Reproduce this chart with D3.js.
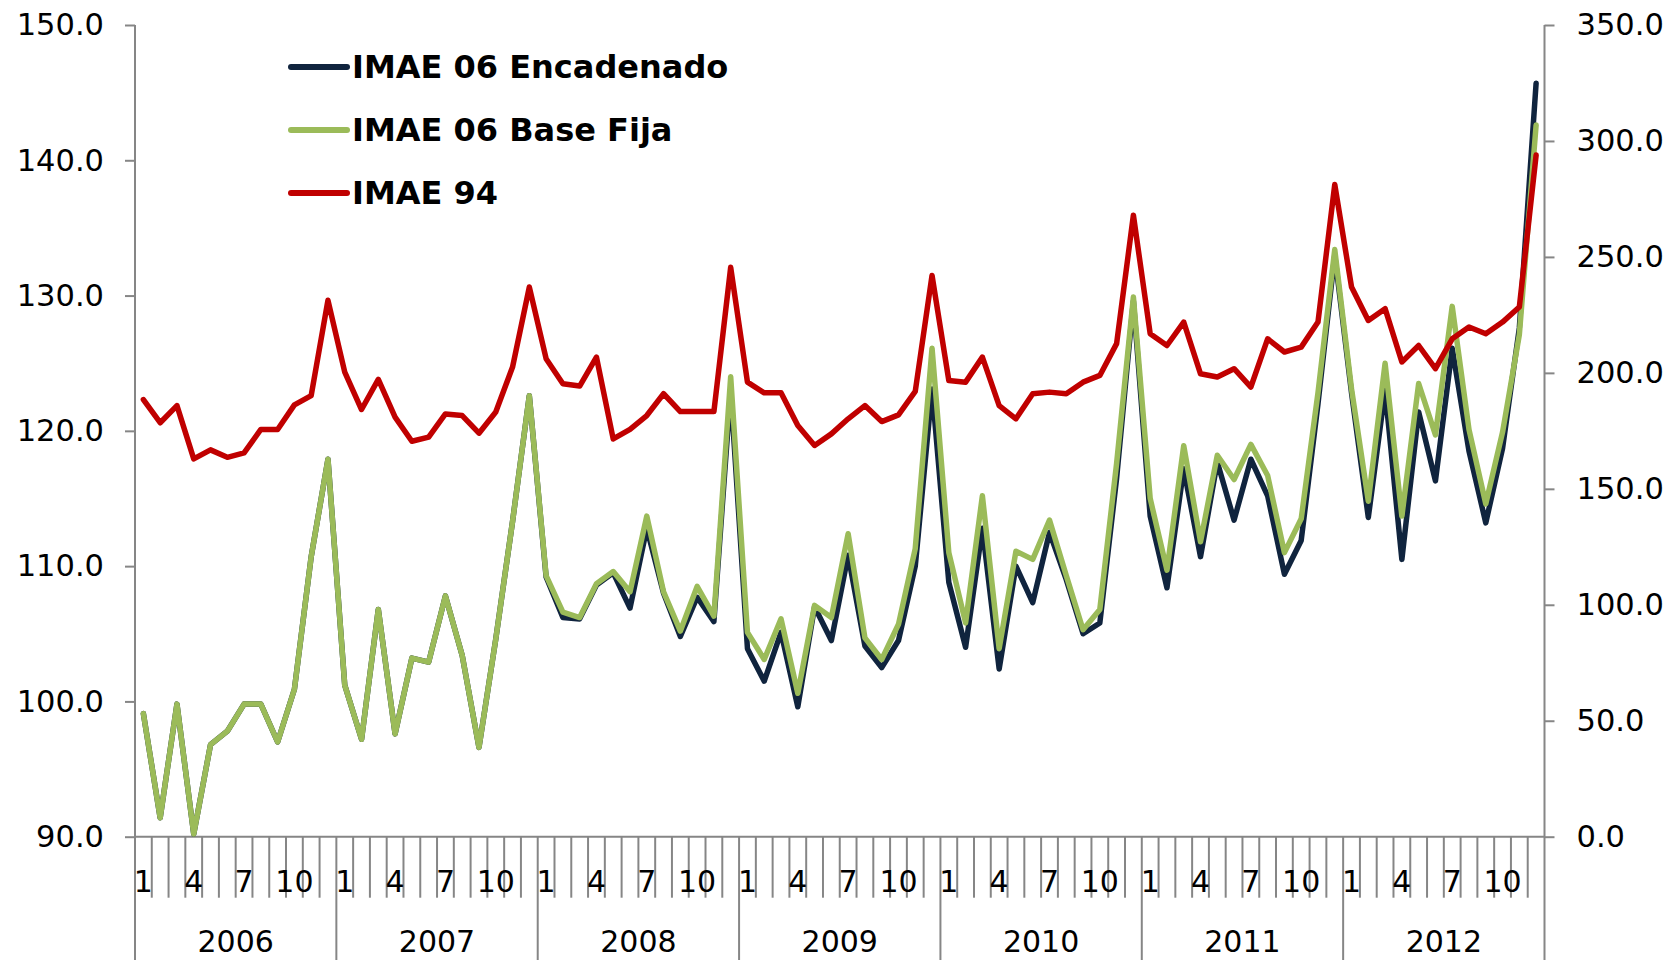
<!DOCTYPE html>
<html>
<head>
<meta charset="utf-8">
<script src="https://cdn.jsdelivr.net/npm/d3@7"></script>
<style>
  html, body { margin: 0; padding: 0; background: #fff; }
  svg { display: block; }
  text { font-family: "DejaVu Sans", Verdana, sans-serif; fill: #000; }
</style>
</head>
<body>
<svg id="chart" width="1673" height="960"></svg>
<script>
// months shown on the category axis
const years = ['2006', '2007', '2008', '2009', '2010', '2011', '2012']
const monthLabels = ['1', '', '', '4', '', '', '7', '', '', '10', '', '']
const leftTicks = [90, 100, 110, 120, 130, 140, 150]
const rightTicks = [0, 50, 100, 150, 200, 250, 300, 350]

// IMAE 06 Encadenado (left axis)
const encadenado = [
  99.1, 91.4, 99.8, 90.2, 96.8, 97.8, 99.8, 99.8, 97.0, 100.9, 110.7, 117.9,
  101.2, 97.2, 106.8, 97.6, 103.2, 102.9, 107.8, 103.4, 96.6, 104.6, 113.3, 122.6,
  109.2, 106.2, 106.1, 108.6, 109.5, 106.9, 112.8, 108.0, 104.8, 107.7, 105.9, 123.0,
  103.9, 101.5, 105.1, 99.6, 107.0, 104.5, 110.8, 104.1, 102.5, 104.5, 110.0, 123.1,
  108.8, 104.0, 112.8, 102.4, 110.0, 107.3, 112.5, 109.0, 105.0, 105.8, 116.5, 129.6,
  113.7, 108.4, 117.2, 110.7, 117.7, 113.4, 117.9, 115.2, 109.4, 111.9, 122.0, 133.0,
  122.8, 113.6, 123.0, 110.5, 121.4, 116.3, 126.1, 118.5, 113.2, 118.7, 127.6, 145.7
]

// IMAE 06 Base Fija (left axis)
const baseFija = [
  99.1, 91.4, 99.8, 90.2, 96.8, 97.8, 99.8, 99.8, 97.0, 100.9, 110.7, 117.9,
  101.2, 97.2, 106.8, 97.6, 103.2, 102.9, 107.8, 103.4, 96.6, 104.6, 113.3, 122.6,
  109.3, 106.6, 106.2, 108.7, 109.6, 108.1, 113.7, 108.1, 105.2, 108.5, 106.3, 124.0,
  105.1, 103.1, 106.1, 100.6, 107.1, 106.2, 112.4, 104.7, 103.1, 105.7, 111.3, 126.1,
  111.0, 105.8, 115.2, 103.9, 111.1, 110.5, 113.4, 109.3, 105.3, 106.8, 117.6, 129.9,
  115.0, 109.7, 118.9, 111.8, 118.2, 116.4, 119.0, 116.7, 111.0, 113.5, 122.8, 133.4,
  123.1, 114.8, 125.0, 113.7, 123.5, 119.7, 129.2, 120.1, 114.6, 119.9, 127.1, 142.6
]

// IMAE 94 (right axis)
const imae94 = [
  188.5, 178.5, 185.9, 162.9, 166.8, 163.6, 165.5, 175.6, 175.6, 186.2, 190.2, 231.3,
  200.3, 184.2, 197.2, 180.9, 170.5, 172.3, 182.3, 181.6, 174.0, 183.1, 202.5, 237.0,
  206.1, 195.3, 194.3, 206.8, 171.5, 175.6, 181.6, 191.0, 183.3, 183.3, 183.3, 245.5,
  196.0, 191.4, 191.4, 177.3, 168.7, 173.7, 180.2, 185.9, 179.0, 181.9, 192.0, 242.0,
  196.7, 196.0, 206.8, 185.9, 180.2, 191.0, 191.7, 191.0, 196.0, 198.9, 212.6, 268.0,
  216.9, 211.8, 221.9, 199.6, 198.2, 201.8, 193.9, 214.7, 209.0, 211.1, 221.9, 281.2,
  237.0, 222.6, 227.7, 204.7, 211.8, 201.8, 214.7, 219.8, 216.9, 221.9, 228.4, 293.9
]

const seriesNames = ['IMAE 06 Encadenado', 'IMAE 06 Base Fija', 'IMAE 94']
const seriesColors = ['#10243e', '#9bbb59', '#c00000']

const svg = d3.select('#chart')
const width = +svg.attr('width')
const height = +svg.attr('height')
const margin = { top: 25, right: 128.5, bottom: 123.3, left: 135 }
const axisColor = '#868686'

const months = d3.range(years.length * 12)
const x = d3.scaleBand()
  .domain(months)
  .range([margin.left, width - margin.right])
const yLeft = d3.scaleLinear().domain([90, 150]).range([height - margin.bottom, margin.top])
const yRight = d3.scaleLinear().domain([0, 350]).range([height - margin.bottom, margin.top])
const bottom = height - margin.bottom
const cx = i => x(i) + x.bandwidth() / 2

// left value axis
const gLeft = svg.append('g')
  .attr('transform', `translate(${margin.left},0)`)
  .call(d3.axisLeft(yLeft).tickValues(leftTicks).tickFormat(d3.format('.1f'))
    .tickSize(10).tickSizeOuter(0).tickPadding(21))
// right value axis
const gRight = svg.append('g')
  .attr('transform', `translate(${width - margin.right},0)`)
  .call(d3.axisRight(yRight).tickValues(rightTicks).tickFormat(d3.format('.1f'))
    .tickSize(10).tickSizeOuter(0).tickPadding(22))

for (const g of [gLeft, gRight]) {
  g.select('.domain').remove()
  g.selectAll('line').attr('stroke', axisColor).attr('stroke-width', 2)
  g.selectAll('text').attr('font-size', 30.5).attr('font-family', '"DejaVu Sans", Verdana, sans-serif')
}

// axis lines, running down past the category labels
svg.append('g').selectAll('line')
  .data([margin.left, width - margin.right])
  .join('line')
  .attr('x1', d => d).attr('x2', d => d)
  .attr('y1', margin.top).attr('y2', height)
  .attr('stroke', axisColor).attr('stroke-width', 2)

svg.append('line')
  .attr('x1', margin.left).attr('x2', width - margin.right)
  .attr('y1', bottom).attr('y2', bottom)
  .attr('stroke', axisColor).attr('stroke-width', 2)

// month separators (short) and year separators (long)
const gx = svg.append('g')
gx.selectAll('line.month')
  .data(months.slice(1))
  .join('line')
  .attr('class', 'month')
  .attr('x1', d => x(d)).attr('x2', d => x(d))
  .attr('y1', bottom)
  .attr('y2', d => d % 12 === 0 ? height : bottom + 61)
  .attr('stroke', axisColor).attr('stroke-width', 2)

gx.selectAll('text.month')
  .data(months.filter(d => monthLabels[d % 12] !== ''))
  .join('text')
  .attr('class', 'month')
  .attr('x', d => cx(d))
  .attr('y', bottom + 55)
  .attr('text-anchor', 'middle')
  .attr('font-size', 30)
  .text(d => monthLabels[d % 12])

gx.selectAll('text.year')
  .data(years)
  .join('text')
  .attr('class', 'year')
  .attr('x', (d, i) => (x(i * 12) + x(i * 12 + 11) + x.bandwidth()) / 2)
  .attr('y', bottom + 115.5)
  .attr('text-anchor', 'middle')
  .attr('font-size', 30)
  .text(d => d)

// lines
const lineLeft = d3.line().x((d, i) => cx(i)).y(d => yLeft(d))
const lineRight = d3.line().x((d, i) => cx(i)).y(d => yRight(d))

const seriesPaths = [
  { data: encadenado, line: lineLeft },
  { data: baseFija, line: lineLeft },
  { data: imae94, line: lineRight }
]

svg.append('g').selectAll('path')
  .data(seriesPaths)
  .join('path')
  .attr('d', d => d.line(d.data))
  .attr('fill', 'none')
  .attr('stroke', (d, i) => seriesColors[i])
  .attr('stroke-width', 5.5)
  .attr('stroke-linejoin', 'round')
  .attr('stroke-linecap', 'round')

// legend
const legend = svg.append('g').attr('transform', 'translate(291,67)')
const item = legend.selectAll('g')
  .data(seriesNames)
  .join('g')
  .attr('transform', (d, i) => `translate(0,${i * 63})`)
item.append('line')
  .attr('x1', 0).attr('x2', 56)
  .attr('stroke', (d, i) => seriesColors[i])
  .attr('stroke-width', 6)
  .attr('stroke-linecap', 'round')
item.append('text')
  .attr('x', 61)
  .attr('y', 11)
  .attr('font-size', 32)
  .attr('font-weight', 'bold')
  .text(d => d)
</script>
</body>
</html>
